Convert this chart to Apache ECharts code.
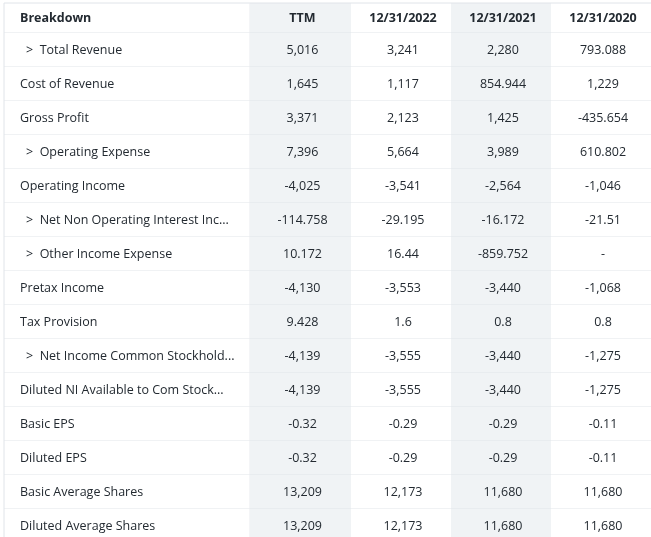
<!DOCTYPE html>
<html>
<head>
<meta charset="utf-8">
<script src="https://cdn.jsdelivr.net/npm/echarts@6/dist/echarts.min.js"></script>
<style>html,body{margin:0;padding:0;background:#fff}#main{width:651px;height:537px}</style>
</head>
<body>
<div id="main"></div>
<script>
// 表格数据
var columns = ['TTM', '12/31/2022', '12/31/2021', '12/31/2020'];
var breakdown = ['Total Revenue', 'Cost of Revenue', 'Gross Profit', 'Operating Expense',
	'Operating Income', 'Net Non Operating Interest Inc...', 'Other Income Expense',
	'Pretax Income', 'Tax Provision', 'Net Income Common Stockhold...',
	'Diluted NI Available to Com Stock...', 'Basic EPS', 'Diluted EPS',
	'Basic Average Shares', 'Diluted Average Shares'];
var expandable = [1, 0, 0, 1, 0, 1, 1, 0, 0, 1, 0, 0, 0, 0, 0];
var ttm = ['5,016', '1,645', '3,371', '7,396', '-4,025', '-114.758', '10.172', '-4,130', '9.428', '-4,139', '-4,139', '-0.32', '-0.32', '13,209', '13,209'];
var y2022 = ['3,241', '1,117', '2,123', '5,664', '-3,541', '-29.195', '16.44', '-3,553', '1.6', '-3,555', '-3,555', '-0.29', '-0.29', '12,173', '12,173'];
var y2021 = ['2,280', '854.944', '1,425', '3,989', '-2,564', '-16.172', '-859.752', '-3,440', '0.8', '-3,440', '-3,440', '-0.29', '-0.29', '11,680', '11,680'];
var y2020 = ['793.088', '1,229', '-435.654', '610.802', '-1,046', '-21.51', '-', '-1,068', '0.8', '-1,275', '-1,275', '-0.11', '-0.11', '11,680', '11,680'];
var values = [ttm, y2022, y2021, y2020];

// 布局（像素）
var colEdges = [4, 250, 351, 451, 551, 651];
var headTop = 3, headH = 30, rowH = 34;
var shaded = [1, 3];

var data = [];
data.push([0, -1, 'Breakdown']);
columns.forEach(function(c, i) { data.push([i + 1, -1, c]); });
breakdown.forEach(function(b, r) {
	data.push([0, r, b]);
	values.forEach(function(v, i) { data.push([i + 1, r, v[r]]); });
});

var myChart = echarts.init(document.getElementById('main'));
myChart.setOption({
	animation: false,
	grid: { left: 0, right: 0, top: 0, bottom: 0 },
	xAxis: { type: 'value', min: 0, max: 651, show: false },
	yAxis: { type: 'value', min: 0, max: 537, inverse: true, show: false },
	series: [{
		type: 'custom',
		data: data,
		renderItem: function(params, api) {
			var c = api.value(0), r = api.value(1);
			var label = data[params.dataIndex][2];
			var y0 = r < 0 ? headTop : headTop + headH + r * rowH;
			var h = r < 0 ? headH : rowH;
			var p0 = api.coord([colEdges[c], y0]);
			var p1 = api.coord([colEdges[c + 1], y0 + h]);
			var w = p1[0] - p0[0], hh = p1[1] - p0[1];
			var children = [];
			children.push({ type: 'rect', shape: { x: p0[0], y: p0[1], width: w, height: hh },
				style: { fill: shaded.indexOf(c) >= 0 ? '#f0f3f5' : '#fff' } });
			children.push({ type: 'line', shape: { x1: p0[0], y1: p1[1], x2: p1[0], y2: p1[1] },
				style: { stroke: '#e0e4e9', lineWidth: 1 } });
			if (r < 0) children.push({ type: 'line', shape: { x1: p0[0], y1: p0[1], x2: p1[0], y2: p0[1] },
				style: { stroke: '#e0e4e9', lineWidth: 1 } });
			if (c === 0) {
				children.push({ type: 'line', shape: { x1: p0[0], y1: p0[1], x2: p0[0], y2: p1[1] },
					style: { stroke: '#e0e4e9', lineWidth: 1 } });
				children.push({ type: 'line', shape: { x1: p1[0], y1: p0[1], x2: p1[0], y2: p1[1] },
					style: { stroke: '#e8ebee', lineWidth: 1 } });
			}
			var bold = r < 0;
			var font = (bold ? 'bold ' : '') + '12.5px "Open Sans", sans-serif';
			if (c === 0) {
				var exp = r >= 0 && expandable[r];
				children.push({ type: 'text', style: {
					text: (exp ? '>  ' : '') + label, x: p0[0] + (exp ? 22 : 16), y: p0[1] + hh / 2,
					verticalAlign: 'middle', font: font, fill: '#232a31' } });
			} else {
				children.push({ type: 'text', style: {
					text: label, x: p0[0] + w / 2 + 2, y: p0[1] + hh / 2, align: 'center',
					verticalAlign: 'middle', font: font, fill: '#232a31' } });
			}
			return { type: 'group', children: children };
		}
	}]
});
</script>
</body>
</html>
